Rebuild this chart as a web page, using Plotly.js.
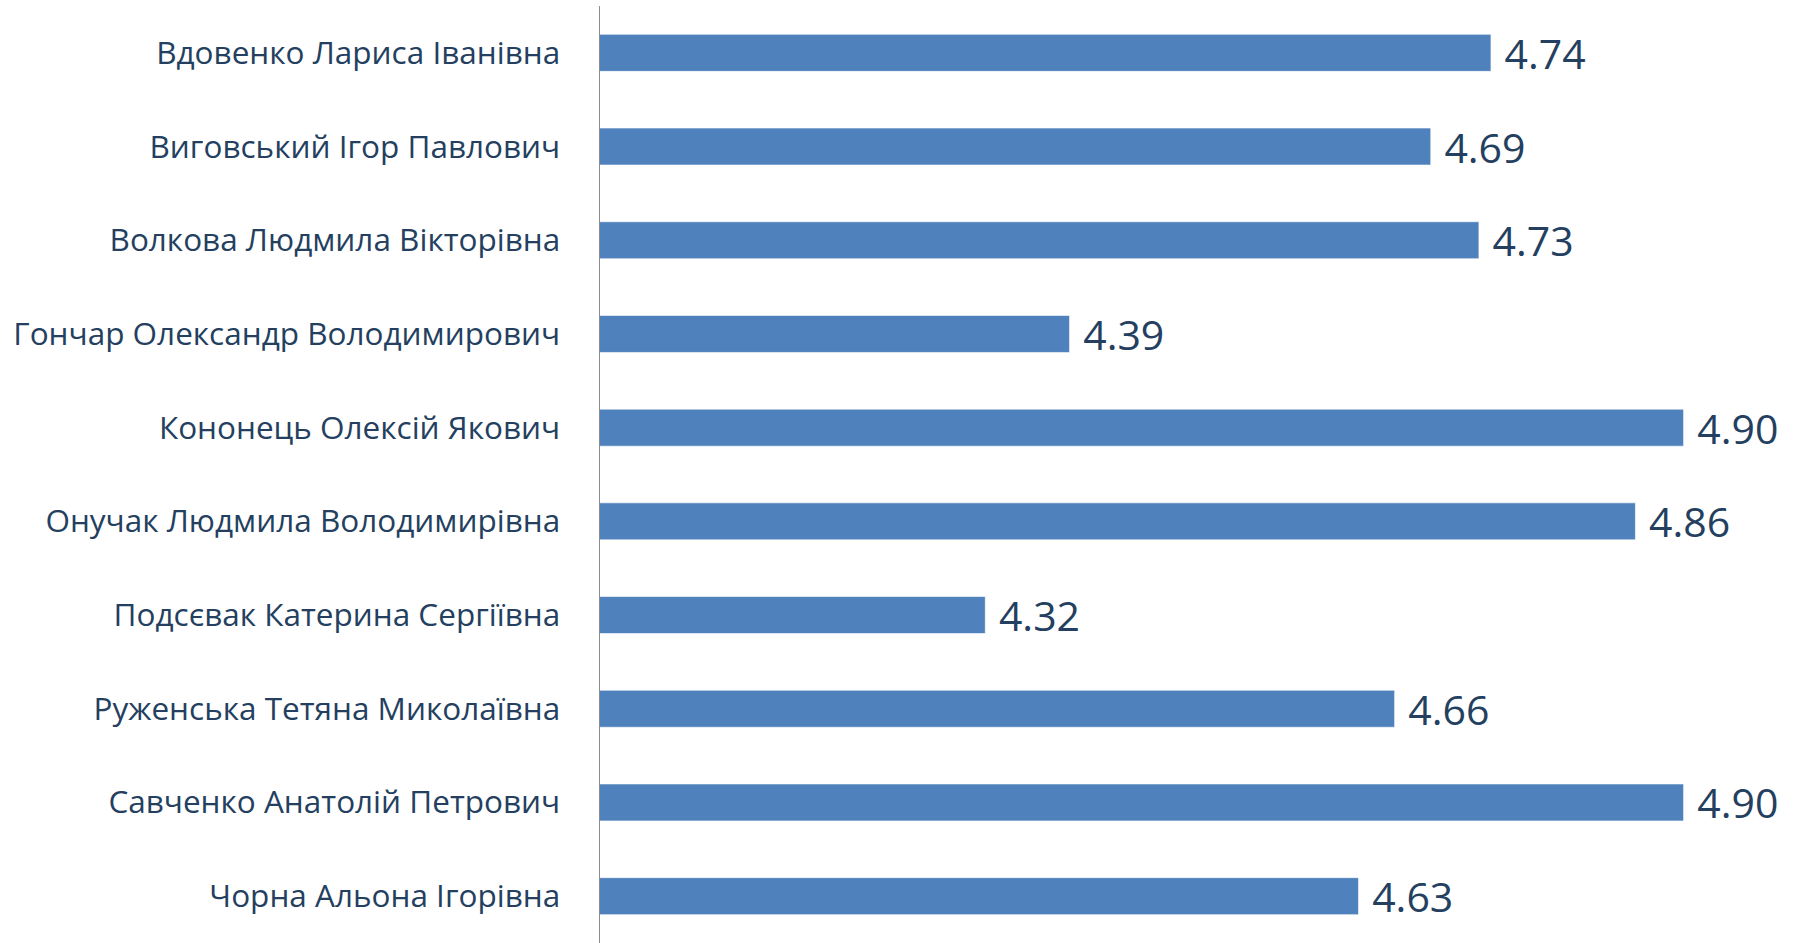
<!DOCTYPE html>
<html>
<head>
<meta charset="utf-8">
<script src="https://cdn.plot.ly/plotly-3.0.1.min.js"></script>
<style>html,body{margin:0;padding:0;background:#fff;}#chart{width:1804px;height:943px;}</style>
</head>
<body>
<div id="chart"></div>
<script>
const names = [
  "Вдовенко Лариса Іванівна",
  "Виговський Ігор Павлович",
  "Волкова Людмила Вікторівна",
  "Гончар Олександр Володимирович",
  "Кононець Олексій Якович",
  "Онучак Людмила Володимирівна",
  "Подсєвак Катерина Сергіївна",
  "Руженська Тетяна Миколаївна",
  "Савченко Анатолій Петрович",
  "Чорна Альона Ігорівна"
];
const scores = [4.74, 4.69, 4.73, 4.39, 4.90, 4.86, 4.32, 4.66, 4.90, 4.63];
const axisRange = [4, 5];

const textColor = "#243F60";

const trace = {
  type: "bar",
  orientation: "h",
  x: scores,
  y: names,
  marker: { color: "#4F81BD", line: { color: "rgba(255,255,255,0.6)", width: 1 } },
  texttemplate: "\u00a0%{x:.2f}",
  textposition: "outside",
  constraintext: "none",
  cliponaxis: false,
  textfont: { family: "Open Sans, sans-serif", size: 41, color: textColor },
  hoverinfo: "skip"
};

const layout = {
  width: 1804,
  height: 943,
  margin: { l: 600, r: 0, t: 6, b: 0, pad: 0 },
  paper_bgcolor: "#ffffff",
  plot_bgcolor: "#ffffff",
  showlegend: false,
  bargap: 0.605,
  xaxis: {
    range: axisRange,
    showgrid: false,
    zeroline: false,
    showline: false,
    showticklabels: false,
    ticks: ""
  },
  yaxis: {
    autorange: "reversed",
    showgrid: false,
    zeroline: false,
    showline: true,
    linecolor: "#8C8C8C",
    linewidth: 1.5,
    ticks: "",
    ticklabelstandoff: 32,
    tickfont: { family: "Open Sans, sans-serif", size: 31.5, color: textColor }
  }
};

Plotly.newPlot("chart", [trace], layout, { staticPlot: true, displayModeBar: false });
</script>
</body>
</html>
